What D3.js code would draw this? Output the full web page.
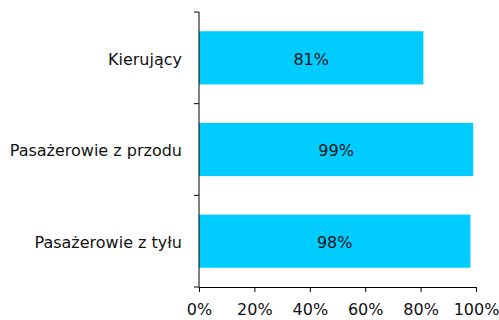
<!DOCTYPE html>
<html>
<head>
<meta charset="utf-8">
<script src="https://cdn.jsdelivr.net/npm/d3@7"></script>
<style>
  body { margin: 0; background: #fff; }
  svg text { font-family: "DejaVu Sans", Verdana, sans-serif; fill: #111; }
</style>
</head>
<body>
<svg id="chart" width="499" height="320"></svg>
<script>
// Share of vehicle occupants, by seat position
const categories = ["Kierujący", "Pasażerowie z przodu", "Pasażerowie z tyłu"];
const values = [81, 99, 98];
const tickValues = [0, 20, 40, 60, 80, 100];

const fontSize = "16px";
const svg = d3.select("#chart");
const margin = { top: 12, right: 23, bottom: 33, left: 199 };
const width = 499 - margin.left - margin.right;
const height = 320 - margin.top - margin.bottom;

const g = svg.append("g").attr("transform", `translate(${margin.left},${margin.top})`);

const x = d3.scaleLinear().domain([0, 100]).range([0, width]);
const y = d3.scaleBand().domain(categories).range([0, height]).paddingInner(0.42).paddingOuter(0.21);

g.selectAll("rect.bar")
  .data(values)
  .join("rect")
  .attr("class", "bar")
  .attr("x", 0)
  .attr("y", (d, i) => y(categories[i]))
  .attr("width", d => x(d))
  .attr("height", y.bandwidth())
  .attr("fill", "#00CCFF");

g.selectAll("text.val")
  .data(values)
  .join("text")
  .attr("class", "val")
  .attr("x", d => x(d) / 2)
  .attr("y", (d, i) => y(categories[i]) + y.bandwidth() / 2)
  .attr("dy", "0.43em")
  .attr("text-anchor", "middle")
  .style("font-size", fontSize)
  .text(d => d + "%");

// Category axis: ticks at band boundaries
const yAxis = g.append("g");
yAxis.append("line")
  .attr("x1", 0).attr("x2", 0).attr("y1", 0).attr("y2", height)
  .attr("stroke", "#000");
const bounds = [0, 1, 2, 3].map(i => i * height / categories.length);
yAxis.selectAll("line.tk").data(bounds).join("line")
  .attr("class", "tk")
  .attr("x1", -5).attr("x2", 0).attr("y1", d => d).attr("y2", d => d)
  .attr("stroke", "#000");
yAxis.selectAll("text").data(categories).join("text")
  .attr("x", -17)
  .attr("y", d => y(d) + y.bandwidth() / 2)
  .attr("dy", "0.43em")
  .attr("text-anchor", "end")
  .style("font-size", fontSize)
  .text(d => d);

// Percentage axis
const xAxis = g.append("g")
  .attr("transform", `translate(0,${height})`)
  .call(d3.axisBottom(x).tickValues(tickValues).tickSize(5).tickSizeOuter(0).tickFormat(d => d + "%"));
xAxis.select(".domain").attr("stroke", "#000");
xAxis.selectAll(".tick line").attr("stroke", "#000");
xAxis.selectAll(".tick text")
  .attr("y", 17)
  .style("font-size", fontSize)
  .style("font-family", "'DejaVu Sans', Verdana, sans-serif")
  .attr("fill", "#111");
</script>
</body>
</html>
